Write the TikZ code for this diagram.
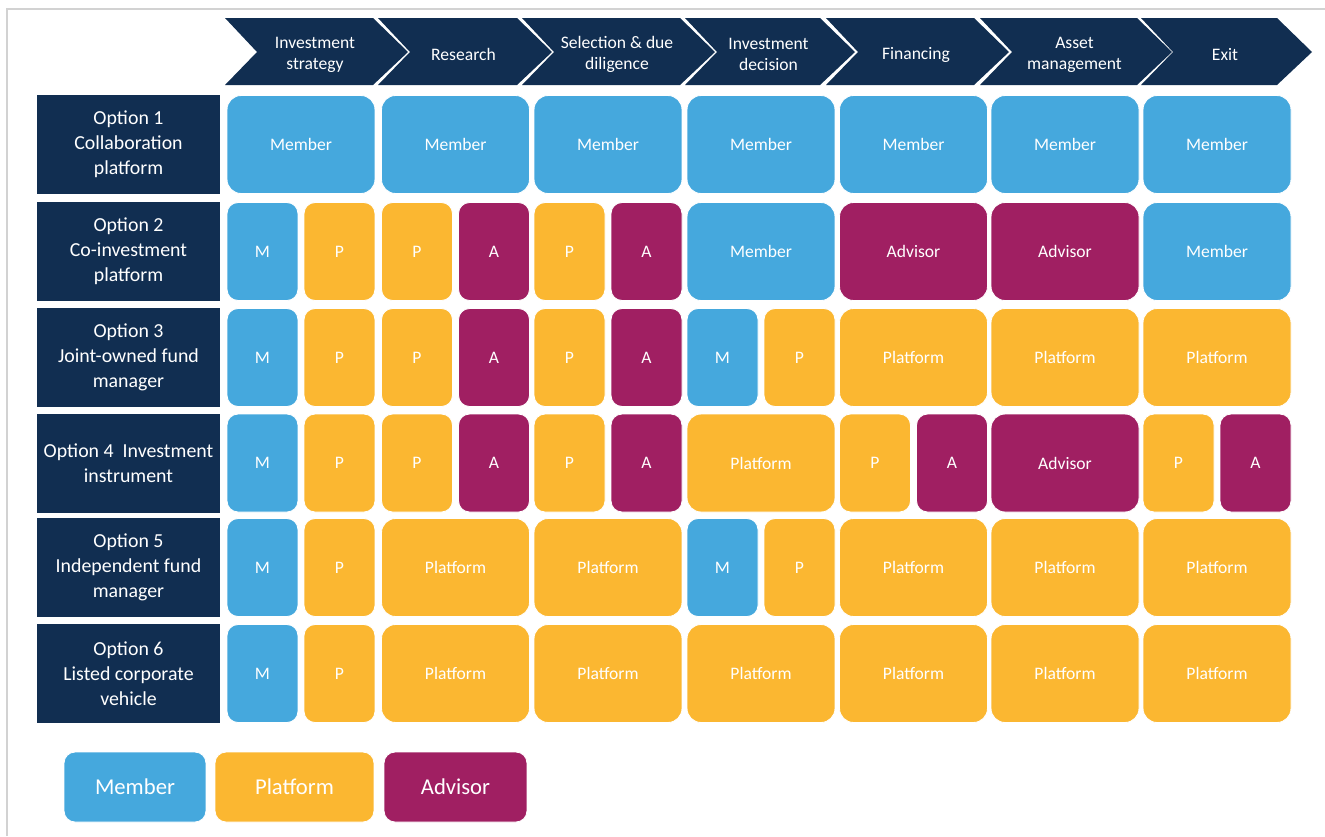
\documentclass[tikz,border=0pt]{standalone}
\usepackage{fontspec}
\setmainfont{Carlito}
\usepackage{xcolor}
\definecolor{navy}{HTML}{112E51}
\definecolor{memberblue}{HTML}{45A8DD}
\definecolor{platformyellow}{HTML}{FBB731}
\definecolor{advisorpurple}{HTML}{A01F62}
\tikzset{
    cell/.style = {draw=white, line width=0.5pt, rounded corners=0.28cm, text=white, font=\fontsize{10}{12}\selectfont, minimum width=2.96cm, minimum height=1.96cm, inner sep=0pt},
    half/.style = {minimum width=1.42cm, rounded corners=0.22cm},
    member/.style = {cell, fill=memberblue},
    platform/.style = {cell, fill=platformyellow},
    advisor/.style = {cell, fill=advisorpurple},
    option-box/.style = {fill=navy, text=white, minimum width=3.66cm, minimum height=1.98cm, align=center, inner sep=0pt, font=\fontsize{11.3}{14.2}\selectfont, execute at begin node={\rule{0pt}{12pt}}},
    stage-text/.style = {text=white, align=center, font=\fontsize{10}{11.9}\selectfont},
    legend-box/.style = {cell, minimum height=1.4cm, rounded corners=0.22cm, font=\fontsize{12.9}{15}\selectfont},
}

\begin{document}
\begin{tikzpicture}[x=0.02cm, y=-0.02cm]
\useasboundingbox (0,0) rectangle (1325,836);
\draw[gray!35, line width=0.8pt] (7,836) -- (7,9) -- (1325,9);

% process stages
\foreach \l/\r/\txt [count=\i] in {225/373/{Investment\\strategy}, 378/517/{Research}, 522/680/{Selection \& due\\diligence}, 685/820/{Investment\\decision}, 826/974/{Financing}, 980/1137/{Asset\\management}, 1141/1277/{Exit}} {
    \fill[navy] (\l,18) -- (\r,18) -- (\r+35,52) -- (\r,85) -- (\l,85) -- (\l+32,52) -- cycle;
    \node[stage-text] (stage\i) at ({(\l+\r)/2+16},54.5) {\txt};
}

% options
\node[option-box] (opt1) at (128.5,144.5) {Option 1\\Collaboration\\platform};
\node[option-box] (opt2) at (128.5,251.5) {Option 2\\Co-investment\\platform};
\node[option-box] (opt3) at (128.5,357.5) {Option 3\\Joint-owned fund\\manager};
\node[option-box] (opt4) at (128.5,463) {Option 4~~Investment\\instrument};
\node[option-box] (opt5) at (128.5,567.5) {Option 5\\Independent fund\\manager};
\node[option-box] (opt6) at (128.5,673.5) {Option 6\\Listed corporate\\vehicle};

% option 1
\foreach \x [count=\i] in {301,455.5,608,761,913.5,1065,1217}
    \node[member] (r1c\i) at (\x,144.5) {Member};

% option 2
\node[member, half] (r2c1m) at (262.5,251.5) {M};
\node[platform, half] (r2c1p) at (339.5,251.5) {P};
\node[platform, half] (r2c2p) at (417,251.5) {P};
\node[advisor, half] (r2c2a) at (494,251.5) {A};
\node[platform, half] (r2c3p) at (569.5,251.5) {P};
\node[advisor, half] (r2c3a) at (646.5,251.5) {A};
\node[member] (r2c4) at (761,251.5) {Member};
\node[advisor] (r2c5) at (913.5,251.5) {Advisor};
\node[advisor] (r2c6) at (1065,251.5) {Advisor};
\node[member] (r2c7) at (1217,251.5) {Member};

% option 3
\node[member, half] (r3c1m) at (262.5,357.5) {M};
\node[platform, half] (r3c1p) at (339.5,357.5) {P};
\node[platform, half] (r3c2p) at (417,357.5) {P};
\node[advisor, half] (r3c2a) at (494,357.5) {A};
\node[platform, half] (r3c3p) at (569.5,357.5) {P};
\node[advisor, half] (r3c3a) at (646.5,357.5) {A};
\node[member, half] (r3c4m) at (722.5,357.5) {M};
\node[platform, half] (r3c4p) at (799.5,357.5) {P};
\node[platform] (r3c5) at (913.5,357.5) {Platform};
\node[platform] (r3c6) at (1065,357.5) {Platform};
\node[platform] (r3c7) at (1217,357.5) {Platform};

% option 4
\node[member, half] (r4c1m) at (262.5,463) {M};
\node[platform, half] (r4c1p) at (339.5,463) {P};
\node[platform, half] (r4c2p) at (417,463) {P};
\node[advisor, half] (r4c2a) at (494,463) {A};
\node[platform, half] (r4c3p) at (569.5,463) {P};
\node[advisor, half] (r4c3a) at (646.5,463) {A};
\node[platform] (r4c4) at (761,463) {Platform};
\node[platform, half] (r4c5p) at (875,463) {P};
\node[advisor, half] (r4c5a) at (952,463) {A};
\node[advisor] (r4c6) at (1065,463) {Advisor};
\node[platform, half] (r4c7p) at (1178.5,463) {P};
\node[advisor, half] (r4c7a) at (1255.5,463) {A};

% option 5
\node[member, half] (r5c1m) at (262.5,567.5) {M};
\node[platform, half] (r5c1p) at (339.5,567.5) {P};
\node[platform] (r5c2) at (455.5,567.5) {Platform};
\node[platform] (r5c3) at (608,567.5) {Platform};
\node[member, half] (r5c4m) at (722.5,567.5) {M};
\node[platform, half] (r5c4p) at (799.5,567.5) {P};
\node[platform] (r5c5) at (913.5,567.5) {Platform};
\node[platform] (r5c6) at (1065,567.5) {Platform};
\node[platform] (r5c7) at (1217,567.5) {Platform};

% option 6
\node[member, half] (r6c1m) at (262.5,673.5) {M};
\node[platform, half] (r6c1p) at (339.5,673.5) {P};
\foreach \x [count=\i from 2] in {455.5,608,761,913.5,1065,1217}
    \node[platform] (r6c\i) at (\x,673.5) {Platform};

% legend
\node[legend-box, fill=memberblue, minimum width=2.84cm] (key-member) at (135,787) {Member};
\node[legend-box, fill=platformyellow, minimum width=3.18cm] (key-platform) at (294.5,787) {Platform};
\node[legend-box, fill=advisorpurple, minimum width=2.86cm] (key-advisor) at (455.5,787) {Advisor};
\end{tikzpicture}
\end{document}
